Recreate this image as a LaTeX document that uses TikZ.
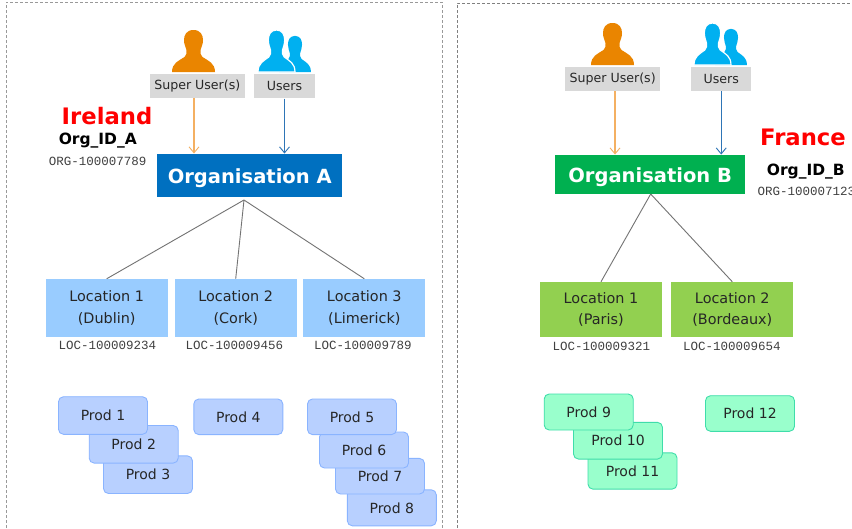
\documentclass[tikz,border=0pt]{standalone}
\usepackage{fontspec}
\setmainfont{DejaVu Sans}
\newfontfamily\monof{Liberation Mono}
\usetikzlibrary{arrows.meta}
\definecolor{orgA}{HTML}{0070C0}
\definecolor{orgB}{HTML}{00B050}
\definecolor{su}{HTML}{EA8500}
\definecolor{us}{HTML}{00B0F0}
\definecolor{sua}{HTML}{F4B062}
\definecolor{usa}{HTML}{2E75B6}
\definecolor{locA}{HTML}{99CCFF}
\definecolor{locB}{HTML}{92D050}
\definecolor{prodA}{HTML}{B8D0FF}
\definecolor{prodAe}{HTML}{8AB4FF}
\definecolor{prodB}{HTML}{99FFCC}
\definecolor{prodBe}{HTML}{3FDDAA}
\definecolor{lab}{HTML}{D9D9D9}
\tikzset{x=1pt,y=-1pt,
 panel/.style={draw=black!40,dash pattern=on 3pt off 2pt,line width=.9pt},
 panelB/.style={draw=black!50,dash pattern=on 3pt off 2pt,line width=.7pt},
 labelbox/.style={fill=lab,inner sep=0,minimum height=24.3pt,font=\fontsize{12.6}{15}\selectfont,text=black!85},
 orgbox/.style={inner sep=0,text=white,text height=16pt,text depth=0pt,font=\fontsize{19.5}{22}\bfseries\selectfont},
 locbox/.style={inner sep=0,align=center,minimum width=122.3pt,font=\fontsize{14.4}{21.5}\selectfont,text=black!85},
 prodbox/.style={draw,rounded corners=5pt,inner sep=0,line width=.9pt,minimum width=89pt,font=\fontsize{14}{16}\selectfont,text=black!85},
 prodA/.style={prodbox,fill=prodA,draw=prodAe},
 prodB/.style={prodbox,fill=prodB,draw=prodBe},
 country/.style={text=red,inner sep=0,anchor=base,font=\fontsize{22.7}{25}\bfseries\selectfont},
 orgid/.style={inner sep=0,anchor=base,font=\fontsize{15.5}{18}\bfseries\selectfont},
 code/.style={inner sep=0,text=black!75,font=\fontsize{12.5}{14}\monof\selectfont},
 tree/.style={draw=black!55,line width=.9pt},
 linkS/.style={draw=sua,line width=1.3pt,-{Straight Barb[length=6pt,width=10pt,line width=.9pt]}},
 linkU/.style={draw=usa,line width=1pt,-{Straight Barb[length=6pt,width=10pt,line width=.9pt]}},
 person/.pic={
  \path[pic actions] (0,-42) .. controls (-7,-42) and (-9.5,-37) .. (-9.5,-32)
    .. controls (-9.5,-28) and (-8,-25) .. (-7,-22) .. controls (-6.5,-19) and (-7,-17) .. (-9,-15)
    .. controls (-15,-11) and (-21.5,-9) .. (-21.5,0) -- (21.5,0)
    .. controls (21.5,-9) and (15,-11) .. (9,-15) .. controls (7,-17) and (6.5,-19) .. (7,-22)
    .. controls (8,-25) and (9.5,-28) .. (9.5,-32) .. controls (9.5,-37) and (7,-42) .. (0,-42) -- cycle;
 }
}
\begin{document}
\begin{tikzpicture}
\useasboundingbox (0,0) rectangle (852,528);
\fill[white] (0,0) rectangle (852,528);
% panels
\draw[panel] (6,528) -- (6,2) -- (442,2) -- (442,528);
\draw[panelB] (457,528) -- (457,3) -- (852,3);
% icons A
\pic[fill=su] at (193.5,72) {person};
\pic[fill=us,xscale=.74,yscale=.86] at (295,72) {person};
\pic[fill=us,draw=white,line width=1.2pt,xscale=.86] at (276.5,72) {person};
% Labels A
\node[labelbox,minimum width=95.3pt] (suA) at (197.3,86.2) {Super User(s)};
\node[labelbox,minimum width=60.4pt] (usA) at (284.5,86.2) {Users};
\node[orgbox,fill=orgA,minimum width=185.3pt,minimum height=43pt] (orgA) at (249.7,175.2) {Organisation A};
\node[country] (ie) at (107,124) {Ireland};
\node[orgid] (idA) at (97.8,144.7) {Org\_ID\_A};
\node[code] (codeA) at (97.7,161) {ORG-100007789};
\coordinate (hubA) at (244,200);
\node[locbox,fill=locA,minimum height=57.7pt] (la1) at (106.7,307.8) {Location 1\\(Dublin)};
\node[locbox,fill=locA,minimum height=57.7pt] (la2) at (235.7,307.8) {Location 2\\(Cork)};
\node[locbox,fill=locA,minimum height=57.7pt] (la3) at (364.3,307.8) {Location 3\\(Limerick)};
\node[code] at (107.5,345.3) {LOC-100009234};
\node[code] at (234.5,345.3) {LOC-100009456};
\node[code] at (363,345.3) {LOC-100009789};
\draw[tree] (hubA) -- (la1.north);
\draw[tree] (hubA) -- (la2.north);
\draw[tree] (hubA) -- (la3.north);
\draw[linkS] (194,98.3) -- (orgA.north -| 194,0);
\draw[linkU] (usA.south) -- (orgA.north -| usA.south);
% Prods A
\node[prodA,minimum height=37.6pt] (p3) at (148,474.7) {Prod 3};
\node[prodA,minimum height=37.6pt] (p2) at (133.7,444.3) {Prod 2};
\node[prodA,minimum height=37.6pt] (p1) at (103,415.5) {Prod 1};
\node[prodA,minimum height=35.6pt] (p4) at (238.3,416.8) {Prod 4};
\node[prodA,minimum height=36pt] (p8) at (391.8,507.8) {Prod 8};
\node[prodA,minimum height=35.6pt] (p7) at (380,476.2) {Prod 7};
\node[prodA,minimum height=36pt] (p6) at (364,450) {Prod 6};
\node[prodA,minimum height=35.6pt] (p5) at (352,416.8) {Prod 5};
% icons B
\pic[fill=su] at (612.5,65) {person};
\pic[fill=us,xscale=.74,yscale=.86] at (731,65) {person};
\pic[fill=us,draw=white,line width=1.2pt,xscale=.86] at (712.5,65) {person};
\node[labelbox,minimum width=95.3pt] (suB) at (612.7,78.9) {Super User(s)};
\node[labelbox,minimum width=59.7pt] (usB) at (721.2,78.9) {Users};
\node[orgbox,fill=orgB,minimum width=190.3pt,minimum height=39.3pt] (orgB) at (650.2,174.4) {Organisation B};
\node[country] (fr) at (803,145) {France};
\node[orgid] (idB) at (805.8,175.3) {Org\_ID\_B};
\node[code] (codeB) at (806.5,191.3) {ORG-100007123};
\coordinate (hubB) at (650.7,194);
\node[locbox,fill=locB,minimum height=54.7pt] (lb1) at (601,309.3) {Location 1\\(Paris)};
\node[locbox,fill=locB,minimum height=54.7pt] (lb2) at (732.3,309.3) {Location 2\\(Bordeaux)};
\node[code] at (601.5,346) {LOC-100009321};
\node[code] at (731.8,346) {LOC-100009654};
\draw[tree] (hubB) -- (lb1.north);
\draw[tree] (hubB) -- (lb2.north);
\draw[linkS] (615,91) -- (orgB.north -| 615,0);
\draw[linkU] (usB.south) -- (orgB.north -| usB.south);
% Prods B
\node[prodB,minimum height=36.3pt] (p11) at (632.5,471) {Prod 11};
\node[prodB,minimum height=36.7pt] (p10) at (618,440.7) {Prod 10};
\node[prodB,minimum height=36pt] (p9) at (588.7,412) {Prod 9};
\node[prodB,minimum height=35.6pt] (p12) at (750,413.5) {Prod 12};
\end{tikzpicture}
\end{document}
